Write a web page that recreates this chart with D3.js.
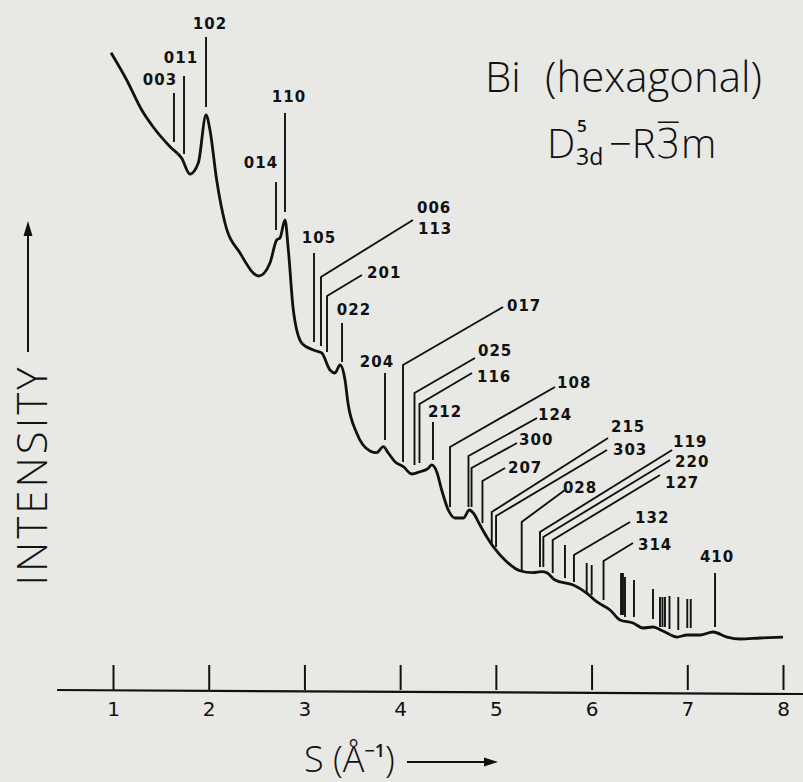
<!DOCTYPE html>
<html>
<head>
<meta charset="utf-8">
<script src="https://cdn.jsdelivr.net/npm/d3@7"></script>
<style>
  body { margin: 0; background: #e8e8e5; }
  svg { display: block; }
  .hkl { font-family: "DejaVu Sans", sans-serif; font-weight: bold; font-size: 15px; letter-spacing: 1px; fill: #111; }
  .refl { stroke: #111; stroke-width: 1.9; fill: none; }
  .profile { stroke: #111; stroke-width: 2.8; fill: none; stroke-linejoin: round; }
  .thin-title { font-family: "Open Sans", "DejaVu Sans", sans-serif; font-weight: 300; fill: #111; }
  .tick text { font-family: "DejaVu Sans", sans-serif; font-size: 20px; fill: #111; }
  .tick line { stroke: #111; stroke-width: 2; }
</style>
</head>
<body>
<svg id="chart" width="803" height="782"></svg>
<script>
// measured intensity profile: [S (1/A), intensity in arbitrary units]
var profile = [
    [0.979, 98.05], [1.143, 93.85], [1.300, 89.23], [1.418, 86.66], [1.596, 83.58],
    [1.718, 81.80], [1.804, 79.38], [1.891, 81.08], [1.972, 88.46], [2.013, 86.15],
    [2.083, 78.46], [2.170, 71.85], [2.327, 67.23], [2.525, 63.69], [2.640, 65.69],
    [2.710, 69.23], [2.745, 69.54], [2.797, 72.31], [2.832, 67.69], [2.884, 58.46],
    [2.972, 53.38], [3.093, 52.31], [3.180, 51.85], [3.267, 49.23], [3.319, 48.77],
    [3.372, 50.00], [3.424, 47.69], [3.455, 44.15], [3.546, 39.54], [3.685, 36.77],
    [3.755, 36.51], [3.824, 37.43], [3.876, 36.46], [3.946, 35.12], [4.033, 34.35],
    [4.121, 33.23], [4.207, 33.58], [4.294, 34.11], [4.330, 34.62], [4.382, 33.58],
    [4.434, 30.77], [4.503, 27.69], [4.573, 26.46], [4.660, 26.46], [4.723, 27.69],
    [4.764, 27.23], [4.834, 25.38], [4.904, 23.58], [4.973, 22.05], [5.113, 19.74],
    [5.252, 18.35], [5.388, 18.05], [5.479, 18.20], [5.531, 18.05], [5.618, 16.92],
    [5.809, 16.15], [5.949, 14.92], [6.054, 13.58], [6.193, 12.31], [6.297, 10.77],
    [6.433, 10.31], [6.537, 9.54], [6.642, 9.69], [6.746, 9.08], [6.893, 8.15],
    [6.997, 8.46], [7.133, 8.46], [7.269, 8.92], [7.415, 8.15], [7.551, 7.85],
    [7.760, 8.00], [8.000, 8.15]
];

// reflections labelled straight above the line
var hklPlain = ["003", "011", "102", "014", "110", "105", "022", "204", "212", "410"];
var sPlain = [1.637, 1.742, 1.972, 2.703, 2.797, 3.100, 3.393, 3.842, 4.343, 7.290];
var topPlain = [91.85, 94.46, 100.46, 78.15, 88.77, 67.23, 56.46, 48.77, 41.23, 18.00];
var basePlain = [84.31, 82.46, 89.69, 70.77, 73.54, 53.54, 50.46, 38.46, 35.38, 9.69];
var labelPlain = [[1.491, 93.08], [1.710, 96.46], [2.013, 101.69], [2.546, 80.31], [2.839, 90.46],
                  [3.152, 68.77], [3.518, 57.69], [3.758, 49.69], [4.469, 42.00], [7.311, 19.69]];

// reflections with a leader line out to the label
var hklLead = ["006/113", "201", "017", "025", "116", "108", "124", "300", "207",
               "215", "303", "028", "119", "220", "127", "132", "314"];
var sLead = [3.173, 3.236, 4.030, 4.150, 4.202, 4.521, 4.714, 4.746, 4.860,
             4.957, 5.002, 5.270, 5.461, 5.496, 5.594, 5.816, 6.125];
var kneeLead = [63.54, 60.62, 50.00, 45.69, 44.00, 37.38, 36.00, 34.15, 32.15,
                27.38, 26.77, 25.85, 24.31, 23.54, 23.08, 20.77, 19.85];
var baseLead = [52.92, 52.00, 35.08, 34.62, 34.92, 28.15, 28.15, 28.15, 25.69,
                22.62, 22.00, 18.46, 18.92, 18.92, 18.00, 16.62, 13.85];
var endLead = [[4.134, 72.31], [3.601, 63.85], [5.075, 58.92], [4.782, 51.08], [4.751, 48.77],
               [5.618, 46.62], [5.430, 41.85], [5.221, 38.00], [5.096, 34.15], [6.172, 38.77],
               [6.161, 36.92], [5.722, 30.77], [6.841, 36.92], [6.820, 35.38], [6.715, 33.08],
               [6.402, 25.85], [6.433, 22.62]];
var labelLead = [[4.176, 73.38], [3.654, 63.38], [5.116, 58.31], [4.813, 51.38], [4.803, 47.38],
                 [5.639, 46.46], [5.440, 41.54], [5.242, 37.69], [5.127, 33.38], [6.203, 39.69],
                 [6.224, 36.15], [5.701, 30.31], [6.851, 37.38], [6.872, 34.31], [6.767, 31.08],
                 [6.454, 25.69], [6.485, 21.54]];

// unlabelled reflections at high S
var sMinor = [5.722, 5.949, 6.001, 6.308, 6.328, 6.349, 6.443, 6.642, 6.715, 6.741, 6.767, 6.814, 6.906, 7.000, 7.036];
var topMinor = [22.31, 19.54, 19.23, 18.00, 18.00, 17.38, 16.92, 15.54, 14.31, 14.31, 14.31, 14.46, 14.31, 14.00, 14.00];
var baseMinor = [17.23, 14.92, 14.62, 11.54, 11.54, 11.23, 11.23, 10.92, 9.69, 9.69, 9.69, 9.38, 9.23, 9.54, 9.54];

var sTicks = [1, 2, 3, 4, 5, 6, 7, 8];

var width = 803, height = 782;
var svg = d3.select("#chart");

var x = d3.scaleLinear().domain([1, 8]).range([113, 783]);
var y = d3.scaleLinear().domain([0, 100]).range([690, 40]);

svg.append("rect")
    .attr("width", width)
    .attr("height", height)
    .attr("fill", "#e8e8e5");

// S axis, ticks pointing up
var axis = d3.axisBottom(x)
    .tickValues(sTicks)
    .tickSizeInner(-25)
    .tickSizeOuter(0)
    .tickPadding(12)
    .tickFormat(d3.format("d"));

var gAxis = svg.append("g")
    .attr("transform", "translate(0," + y(0) + ")")
    .call(axis);
gAxis.select(".domain").remove();
gAxis.append("line")
    .attr("x1", x(0.415))
    .attr("x2", x(8.21))
    .attr("y1", 0)
    .attr("y2", 4)
    .attr("stroke", "#111")
    .attr("stroke-width", 2.2);

// profile
var line = d3.line()
    .x(function(d) { return x(d[0]); })
    .y(function(d) { return y(d[1]); });

var smooth = d3.line()
    .curve(d3.curveMonotoneX)
    .x(function(d) { return x(d[0]); })
    .y(function(d) { return y(d[1]); });

svg.append("path")
    .datum(profile)
    .attr("class", "profile")
    .attr("d", smooth);

// plain reflection lines
var gPlain = svg.append("g");
hklPlain.forEach(function(hkl, i) {
    gPlain.append("line")
        .attr("class", "refl")
        .attr("x1", x(sPlain[i])).attr("x2", x(sPlain[i]))
        .attr("y1", y(basePlain[i])).attr("y2", y(topPlain[i]));
    gPlain.append("text")
        .attr("class", "hkl")
        .attr("x", x(labelPlain[i][0]))
        .attr("y", y(labelPlain[i][1]))
        .attr("text-anchor", "middle")
        .text(hkl);
});

// reflections with leaders
var gLead = svg.append("g");
hklLead.forEach(function(hkl, i) {
    var pts = [[sLead[i], baseLead[i]], [sLead[i], kneeLead[i]], endLead[i]];
    gLead.append("path")
        .attr("class", "refl")
        .attr("d", line(pts));
    var t = gLead.append("text")
        .attr("class", "hkl")
        .attr("x", x(labelLead[i][0]))
        .attr("y", y(labelLead[i][1]));
    hkl.split("/").forEach(function(part, k) {
        t.append("tspan")
            .attr("x", x(labelLead[i][0]) + k)
            .attr("dy", k === 0 ? 0 : "1.4em")
            .text(part);
    });
});

// unlabelled lines
svg.append("g").selectAll("line")
    .data(sMinor)
    .enter()
    .append("line")
        .attr("class", "refl")
        .attr("x1", function(d) { return x(d); })
        .attr("x2", function(d) { return x(d); })
        .attr("y1", function(d, i) { return y(baseMinor[i]); })
        .attr("y2", function(d, i) { return y(topMinor[i]); });

// title block
var title = svg.append("text")
    .attr("class", "thin-title")
    .attr("y", 92)
    .style("font-size", "42px");
title.append("tspan").attr("x", 485).text("Bi");
title.append("tspan").attr("x", 545).text("(hexagonal)");

svg.append("text").attr("class", "thin-title")
    .attr("x", 547).attr("y", 158).style("font-size", "40px").text("D");
svg.append("text").attr("class", "thin-title")
    .attr("x", 577).attr("y", 132).style("font-size", "17px").style("font-weight", 600).text("5");
svg.append("text").attr("class", "thin-title")
    .attr("x", 576).attr("y", 165).style("font-size", "23px").style("font-weight", 400).text("3d");
svg.append("text").attr("class", "thin-title")
    .attr("x", 609).attr("y", 158).style("font-size", "40px").text("\u2212R3\u0305m");

// axis titles
svg.append("text")
    .attr("class", "thin-title")
    .attr("transform", "translate(47,475) rotate(-90)")
    .attr("text-anchor", "middle")
    .style("font-size", "42px")
    .style("letter-spacing", "3px")
    .text("INTENSITY");

svg.append("line")
    .attr("x1", 28).attr("x2", 28)
    .attr("y1", 352).attr("y2", 232)
    .attr("stroke", "#111").attr("stroke-width", 2);
svg.append("path")
    .attr("d", "M28,221 L23.5,236 L32.5,236 Z")
    .attr("fill", "#111");

var sTitle = svg.append("text")
    .attr("class", "thin-title")
    .attr("x", 304)
    .attr("y", 772)
    .style("font-size", "36px");
sTitle.append("tspan").text("S (\u00c5");
sTitle.append("tspan").attr("dy", -15).style("font-size", "18px").style("font-weight", 600).text("\u22121");
sTitle.append("tspan").attr("dy", 15).text(")");

svg.append("line")
    .attr("x1", 407).attr("x2", 488)
    .attr("y1", 762).attr("y2", 762)
    .attr("stroke", "#111").attr("stroke-width", 2);
svg.append("path")
    .attr("d", "M498,762 L484,757.5 L484,766.5 Z")
    .attr("fill", "#111");
</script>
</body>
</html>
